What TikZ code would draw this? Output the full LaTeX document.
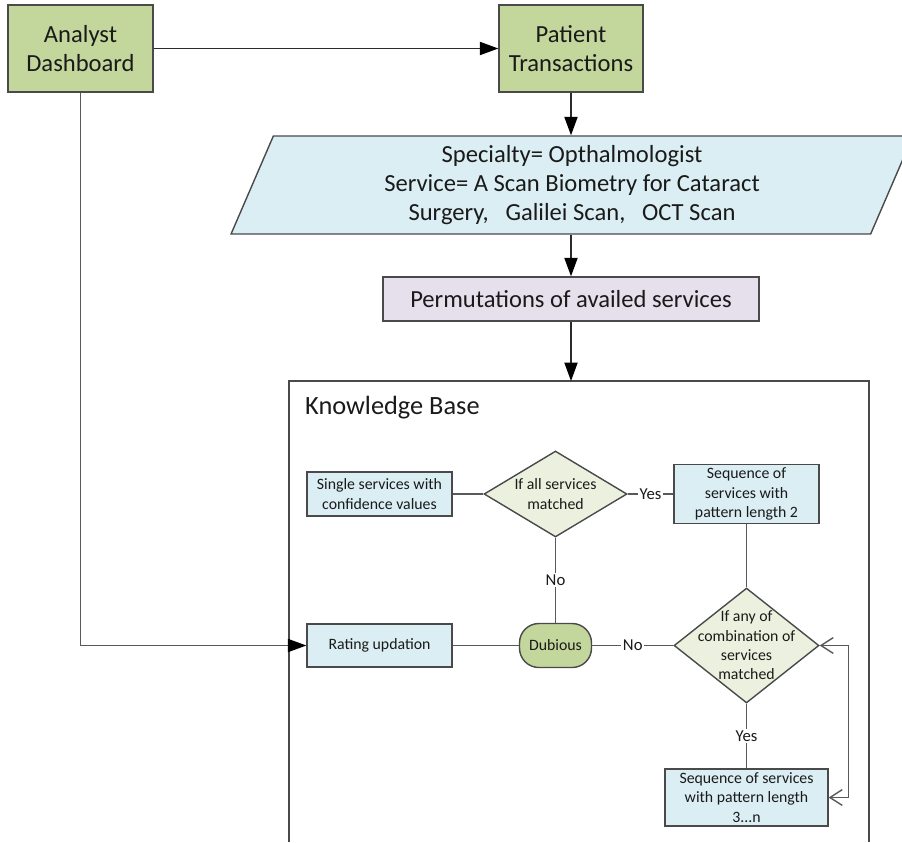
\documentclass[tikz,border=0pt]{standalone}
\usepackage{fontspec}
\setmainfont{Carlito}
\usepackage{tikz}
\usetikzlibrary{
  arrows.meta,
  positioning,
  shapes.geometric,
}
\definecolor{ink}{HTML}{1A1A1A}
\definecolor{edge}{HTML}{4A4A4A}
\definecolor{flowline}{HTML}{2B2B2B}
\definecolor{linegray}{HTML}{595959}
\definecolor{olive}{HTML}{C3D69B}
\definecolor{sky}{HTML}{DBEEF4}
\definecolor{lilac}{HTML}{E5E0EC}
\definecolor{sage}{HTML}{EBF1DE}
\tikzset{
  >={Triangle[length=10.5pt,width=7.5pt,color=black]},
  every node/.append style={text=ink},
  big/.style={font=\fontsize{14}{16.5}\selectfont},
  small/.style={font=\fontsize{9}{11}\selectfont},
  block/.style={draw=edge, line width=0.8pt, fill=#1, align=center, inner sep=2pt},
  decision/.style={diamond, draw=edge, line width=0.8pt, fill=sage, inner sep=0pt},
  flow/.style={draw=flowline, line width=0.8pt, ->},
  link/.style={draw=linegray, line width=0.8pt},
  tag/.style={font=\fontsize{9.5}{11}\selectfont, fill=white, inner sep=1pt},
}

\begin{document}
\begin{tikzpicture}[x=0.02cm, y=-0.02cm]
  \useasboundingbox (0,0) rectangle (902,842);

  % top row
  \node[block=olive, big, minimum width=2.9cm, minimum height=1.74cm] (ad) at (80.5,48.5) {Analyst\\Dashboard};
  \node[block=olive, big, minimum width=2.88cm, minimum height=1.74cm] (pt) at (571,48.5) {Patient\\Transactions};

  % input + permutations
  \node[block=sky, big, trapezium, trapezium left angle=63.9, trapezium right angle=116.1,
        trapezium stretches body, minimum width=13.64cm, minimum height=1.96cm] (spec) at (572,185)
        {Specialty= Opthalmologist\\Service= A Scan Biometry for Cataract\\Surgery,\ \ \ Galilei Scan,\ \ \ OCT Scan};
  \node[block=lilac, big, minimum width=7.52cm, minimum height=0.88cm] (perm) at (571,299) {Permutations of availed services};

  % knowledge base frame
  \coordinate (kbnw) at (289,381);
  \coordinate (kbne) at (869,381);
  \draw[edge, line width=0.8pt] (289,842) -- (kbnw) -- (kbne) -- (869,842);
  \node[font=\fontsize{15}{18}\selectfont, anchor=west] (kbtitle) at (299,408) {Knowledge Base};

  \node[block=sky, small, minimum width=2.9cm, minimum height=0.88cm] (single) at (379.5,494) {Single services with\\confidence values};
  \node[decision, minimum width=2.86cm, minimum height=1.72cm] (d1) at (555.5,494) {};
  \node[small, align=center] (d1txt) at (d1) {If all services\\matched};
  \node[block=sky, small, minimum width=2.9cm, minimum height=1.16cm] (seq2) at (746.5,494) {Sequence of\\services with\\pattern length 2};

  \node[block=sky, small, minimum width=2.9cm, minimum height=0.86cm] (rating) at (379.5,645.5) {Rating updation};
  \node[block=olive, small, rounded corners=11pt, minimum width=1.44cm, minimum height=0.88cm] (dub) at (555.5,645.5) {Dubious};
  \node[decision, minimum width=2.9cm, minimum height=2.3cm] (d2) at (746.5,645.5) {};
  \node[small, align=center] (d2txt) at (d2) {If any of\\combination of\\services\\matched};
  \node[block=sky, small, minimum width=3.26cm, minimum height=1.14cm] (seq3) at (746.5,797.5) {Sequence of services\\with pattern length\\3...n};

  % connectors
  \draw[flow] (ad) -- (pt);
  \draw[flow] (pt) -- (pt |- spec.north);
  \draw[flow] (spec.south -| perm) -- (perm);
  \draw[flow] (perm) -- (perm |- kbnw);
  \draw[flow, draw=linegray] (ad) |- (rating);

  \draw[link] (single) -- (d1);
  \draw[link] (d1) -- node[tag] {Yes} (seq2);
  \draw[link] (d1) -- node[tag] {No} (dub);
  \draw[link] (seq2) -- (d2);
  \draw[link] (d2) -- node[tag] {No} (dub);
  \draw[link] (dub) -- (rating);
  \draw[link] (d2) -- node[tag] {Yes} (seq3);
  \draw[link, {Straight Barb[length=7pt,width=9pt]}-{Straight Barb[length=7pt,width=9pt]}]
    (d2.east) -- ++(29,0) |- (seq3.east);
\end{tikzpicture}
\end{document}
